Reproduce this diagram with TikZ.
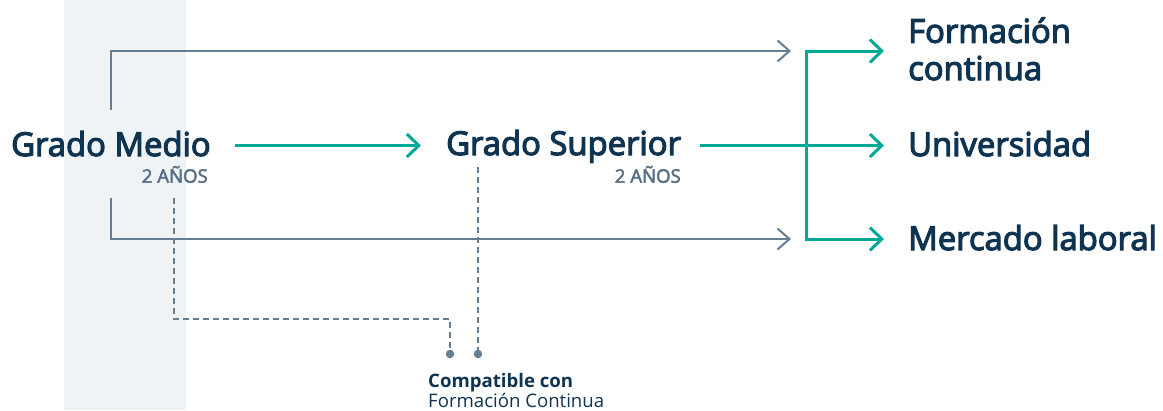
\documentclass[tikz,border=0pt]{standalone}
\usepackage{fontspec}
\setmainfont{Open Sans}
\newfontfamily\sbf{Open Sans}[FakeBold=3.6]
\newfontfamily\sbs{Open Sans}[FakeBold=2.8]
\usetikzlibrary{arrows.meta}
\definecolor{navy}{HTML}{0E3452}
\definecolor{subgray}{HTML}{587085}
\definecolor{linegray}{HTML}{667E93}
\definecolor{teal}{HTML}{00A896}
\definecolor{band}{HTML}{F0F3F5}
\tikzset{
  lbl/.style={inner sep=0pt, anchor=base west, text=navy, font=\sbf\fontsize{32.8}{37.3}\selectfont},
  yrs/.style={inner sep=0pt, anchor=base east, text=subgray, font=\sbs\fontsize{18.6}{20}\selectfont},
  grayline/.style={draw=linegray, line width=2pt},
  grayarrow/.style={grayline, -{Straight Barb[length=12pt,width=21pt]}},
  tealline/.style={draw=teal, line width=3pt},
  tealarrow/.style={tealline, -{Straight Barb[length=12pt,width=23pt]}},
  dashline/.style={draw=linegray, line width=1.6pt, dash pattern=on 6pt off 4pt},
  dotnode/.style={circle, fill=linegray, inner sep=0pt, minimum size=8.5pt},
}
\begin{document}
\begin{tikzpicture}[x=1pt,y=-1pt]
\useasboundingbox (0,0) rectangle (1163,410);
\fill[band] (64,0) rectangle (186,410);
% nodes
\node[lbl] (gm) at (11,156) {Grado Medio};
\node[yrs] (gmy) at (208,182.7) {2 AÑOS};
\node[lbl] (gs) at (446,155) {Grado Superior};
\node[yrs] (gsy) at (681,182.7) {2 AÑOS};
\node[lbl, align=left, anchor=base west] (fc) at (908,80) {Formación\\continua};
\node[lbl] (un) at (908,156) {Universidad};
\node[lbl] (ml) at (908,250) {Mercado laboral};
\node[inner sep=0pt, anchor=base west, text=navy, font=\bfseries\fontsize{18.6}{20}\selectfont] (cc) at (428,387) {Compatible con};
\node[inner sep=0pt, anchor=base west, text=navy, font=\fontsize{18.6}{20}\selectfont] (fcn) at (428,407) {Formación Continua};
% coordinates
\coordinate (gmT) at (111,110);
\coordinate (gmB) at (111,198);
\coordinate (gaT) at (791,51);
\coordinate (gaB) at (791,239);
\coordinate (t1s) at (235,145.5);
\coordinate (t1e) at (421,145.5);
\coordinate (t2s) at (700,145.5);
\coordinate (brT) at (806,51);
\coordinate (brB) at (806,239);
\coordinate (fcA) at (884,51);
\coordinate (unA) at (884,145.5);
\coordinate (mlA) at (884,239);
\coordinate (d1s) at (174,198);
\coordinate (d1c) at (174,319);
\coordinate (d2s) at (478,167);
% gray connectors
\draw[grayarrow] (gmT) |- (gaT);
\draw[grayarrow] (gmB) |- (gaB);
% dashed connectors
\node[dotnode] (dot1) at (450,354) {};
\node[dotnode] (dot2) at (478,354) {};
\draw[dashline] (d1s) -- (d1c) -| (dot1.center);
\draw[dashline] (d2s) -- (dot2.center);
% teal connectors
\draw[tealarrow] (t1s) -- (t1e);
\draw[tealarrow] (t2s) -- (unA);
\draw[tealline, line join=miter] (brT) -- (brB);
\draw[tealarrow, line join=miter] (brB) |- (fcA);
\draw[tealarrow, line join=miter] (brT) |- (mlA);
\end{tikzpicture}
\end{document}
